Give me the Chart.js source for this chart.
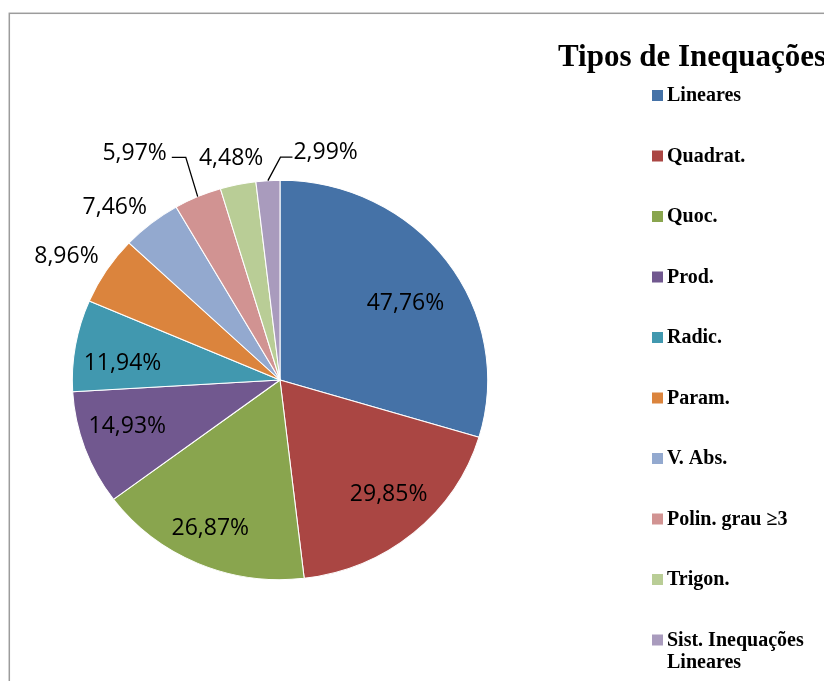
<!DOCTYPE html>
<html><head><meta charset="utf-8">
<script src="https://cdn.jsdelivr.net/npm/chart.js@4/dist/chart.umd.min.js"></script>
<style>html,body{margin:0;padding:0;background:#fff;overflow:hidden}canvas{display:block}</style>
</head><body>
<canvas id="c" width="824" height="681"></canvas>
<script>
const chartTitle = 'Tipos de Inequações';
const categories = ['Lineares','Quadrat.','Quoc.','Prod.','Radic.','Param.','V. Abs.','Polin. grau ≥3','Trigon.','Sist. Inequações Lineares'];
const percentages = [47.76, 29.85, 26.87, 14.93, 11.94, 8.96, 7.46, 5.97, 4.48, 2.99];
const colors = ['#4572A7','#AA4643','#89A54E','#71588F','#4198AF','#DB843D','#93A9CF','#D19392','#B9CD96','#A99BBD'];
const percentLabels = percentages.map(v => v.toFixed(2).replace('.', ',') + '%');

const SX = 1.04; // horizontal stretch of the pie, as in the reference
const LABEL_FONT = 23;

const stretch = {
  id: 'stretch',
  beforeDatasetsDraw(chart) {
    const a = chart.getDatasetMeta(0).data[0];
    const c = chart.ctx;
    c.save(); c.translate(a.x, a.y); c.scale(SX, 1); c.translate(-a.x, -a.y);
  },
  afterDatasetsDraw(chart) { chart.ctx.restore(); }
};

const decor = {
  id: 'decor',
  beforeDraw(chart) {
    const c = chart.ctx;
    c.save();
    c.strokeStyle = '#9c9c9c'; c.lineWidth = 1.5;
    c.strokeRect(9.3, 13.3, 1000, 1000);
    c.restore();
  },
  afterDraw(chart, args, opts) {
    const c = chart.ctx;
    const meta = chart.getDatasetMeta(0);
    c.save();
    // data labels
    c.font = LABEL_FONT + 'px "Open Sans"';
    c.fillStyle = '#000'; c.strokeStyle = '#000'; c.lineWidth = 1.3;
    c.textAlign = 'center'; c.textBaseline = 'alphabetic';
    meta.data.forEach((arc, i) => {
      const p = arc.getProps(['x','y','startAngle','endAngle','outerRadius'], true);
      const pl = opts.place[i];
      const midArc = (p.startAngle + p.endAngle) / 2;
      const mid = midArc + pl.da * Math.PI / 180;
      const r = p.outerRadius * pl.r;
      const x = p.x + Math.cos(mid) * r * SX;
      const y = p.y + Math.sin(mid) * r;
      c.fillText(percentLabels[i], x, y + 0.357 * LABEL_FONT);
      if (pl.leader) {
        const w = c.measureText(percentLabels[i]).width;
        const ly = y + 6;
        const ex = p.x + Math.cos(midArc) * p.outerRadius * SX;
        const ey = p.y + Math.sin(midArc) * p.outerRadius;
        c.beginPath();
        if (pl.leader === 'right') {
          c.moveTo(x + w / 2 + 5, ly); c.lineTo(x + w / 2 + 19, ly);
        } else {
          c.moveTo(x - w / 2 - 1, ly); c.lineTo(x - w / 2 - 13, ly);
        }
        c.lineTo(ex, ey);
        c.stroke();
      }
    });
    // title
    c.textAlign = 'left';
    c.font = 'bold 31px "Liberation Serif"';
    c.fillText(chartTitle, 558, 66);
    // legend
    c.font = 'bold 20px "Liberation Serif"';
    categories.forEach((name, i) => {
      const cy = 95.5 + i * 60.5;
      c.fillStyle = colors[i];
      c.fillRect(652, cy - 5.5, 11, 11);
      c.fillStyle = '#000';
      const words = name.split(' ');
      const lines = []; let cur = '';
      words.forEach(wd => {
        const t = cur ? cur + ' ' + wd : wd;
        if (c.measureText(t).width > 152 && cur) { lines.push(cur); cur = wd; } else cur = t;
      });
      lines.push(cur);
      lines.forEach((ln, k) => c.fillText(ln, 667, cy + 5.5 + k * 22));
    });
    c.restore();
  }
};

new Chart(document.getElementById('c'), {
  type: 'pie',
  data: {
    labels: categories,
    datasets: [{
      data: percentages,
      backgroundColor: colors,
      borderColor: '#ffffff',
      borderWidth: 1,
      radius: 199.7,
      clip: false
    }]
  },
  options: {
    responsive: false,
    animation: false,
    devicePixelRatio: 1,
    layout: { padding: { left: 80, right: 344, top: 180, bottom: 101 } },
    plugins: {
      legend: { display: false },
      tooltip: { enabled: false },
      title: { display: false },
      decor: {
        place: [
          { da: 3.6, r: 0.721 },
          { da: -2.9, r: 0.768 },
          { da: 1.3, r: 0.806 },
          { da: 3.2, r: 0.768 },
          { da: -3.0, r: 0.764 },
          { da: -1.9, r: 1.205 },
          { da: -4.0, r: 1.181 },
          { da: -8.1, r: 1.342, leader: 'right' },
          { da: -0.2, r: 1.144 },
          { da: 14.2, r: 1.167, leader: 'left' }
        ]
      }
    }
  },
  plugins: [stretch, decor]
});
</script>
</body></html>
